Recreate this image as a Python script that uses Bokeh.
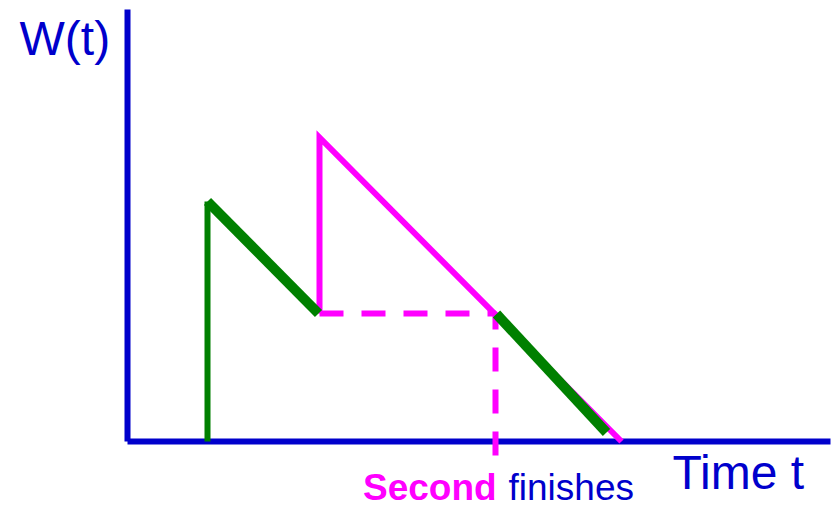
from bokeh.plotting import figure
from bokeh.models import Range1d
from bokeh.core.properties import value
from bokeh.embed import file_html
from bokeh.resources import INLINE

# ---- data (time t, workload W) ----
green_rise_t = [8.0, 8.0]
green_rise_w = [0.0, 24.0]
green_fall1_t = [8.0, 19.1]
green_fall1_w = [24.0, 12.8]
green_fall2_t = [36.9, 47.9]
green_fall2_w = [12.75, 0.9]
magenta_t = [19.2, 19.2, 49.4]
magenta_w = [12.8, 30.4, 0.0]
dashed_t = [19.2, 36.8, 36.8]
dashed_w = [12.8, 12.8, -1.4]
x_axis_t = [0.0, 70.3]
x_axis_w = [0.0, 0.0]
y_axis_t = [0.0, 0.0]
y_axis_w = [0.0, 43.2]

BLUE = "#0000CC"
MAGENTA = "#FF00FF"
GREEN = "#008000"
FONT = "Liberation Sans"

p = figure(width=835, height=509, output_backend="svg", toolbar_location=None,
           x_range=Range1d(-12.7, 70.8), y_range=Range1d(-6.8, 44.1),
           x_axis_type=None, y_axis_type=None, min_border=0)
p.grid.visible = False
p.outline_line_color = None
p.background_fill_color = "white"
p.border_fill_color = "white"

# axes
p.line(x_axis_t, x_axis_w, line_color=BLUE, line_width=6)
p.line(y_axis_t, y_axis_w, line_color=BLUE, line_width=6)

# magenta work curve and dashed guide
p.line(magenta_t, magenta_w, line_color=MAGENTA, line_width=6, line_join="miter")
p.line(dashed_t, dashed_w, line_color=MAGENTA, line_width=6, line_dash="24 18")

# green work curve
p.line(green_rise_t, green_rise_w, line_color=GREEN, line_width=6)
p.line(green_fall1_t, green_fall1_w, line_color=GREEN, line_width=10)
p.line(green_fall2_t, green_fall2_w, line_color=GREEN, line_width=10)

# texts
p.text(x=[-10.8], y=[40.3], text=["W(t)"], text_font=value(FONT),
       text_font_size="48px", text_color=BLUE, text_align="left",
       text_baseline="alphabetic")
p.text(x=[54.5], y=[-3.1], text=["Time t"], text_font=value(FONT),
       text_font_size="48px", text_color=BLUE, text_align="left",
       text_baseline="alphabetic")
p.text(x=[23.55], y=[-4.55], text=["Second"], text_font=value(FONT),
       text_font_size="37px", text_font_style="bold", text_color=MAGENTA,
       text_align="left", text_baseline="alphabetic")
p.text(x=[38.1], y=[-4.55], text=["finishes"], text_font=value(FONT),
       text_font_size="37px", text_color=BLUE, text_align="left",
       text_baseline="alphabetic")

open("out.html", "w").write(file_html(p, INLINE))
